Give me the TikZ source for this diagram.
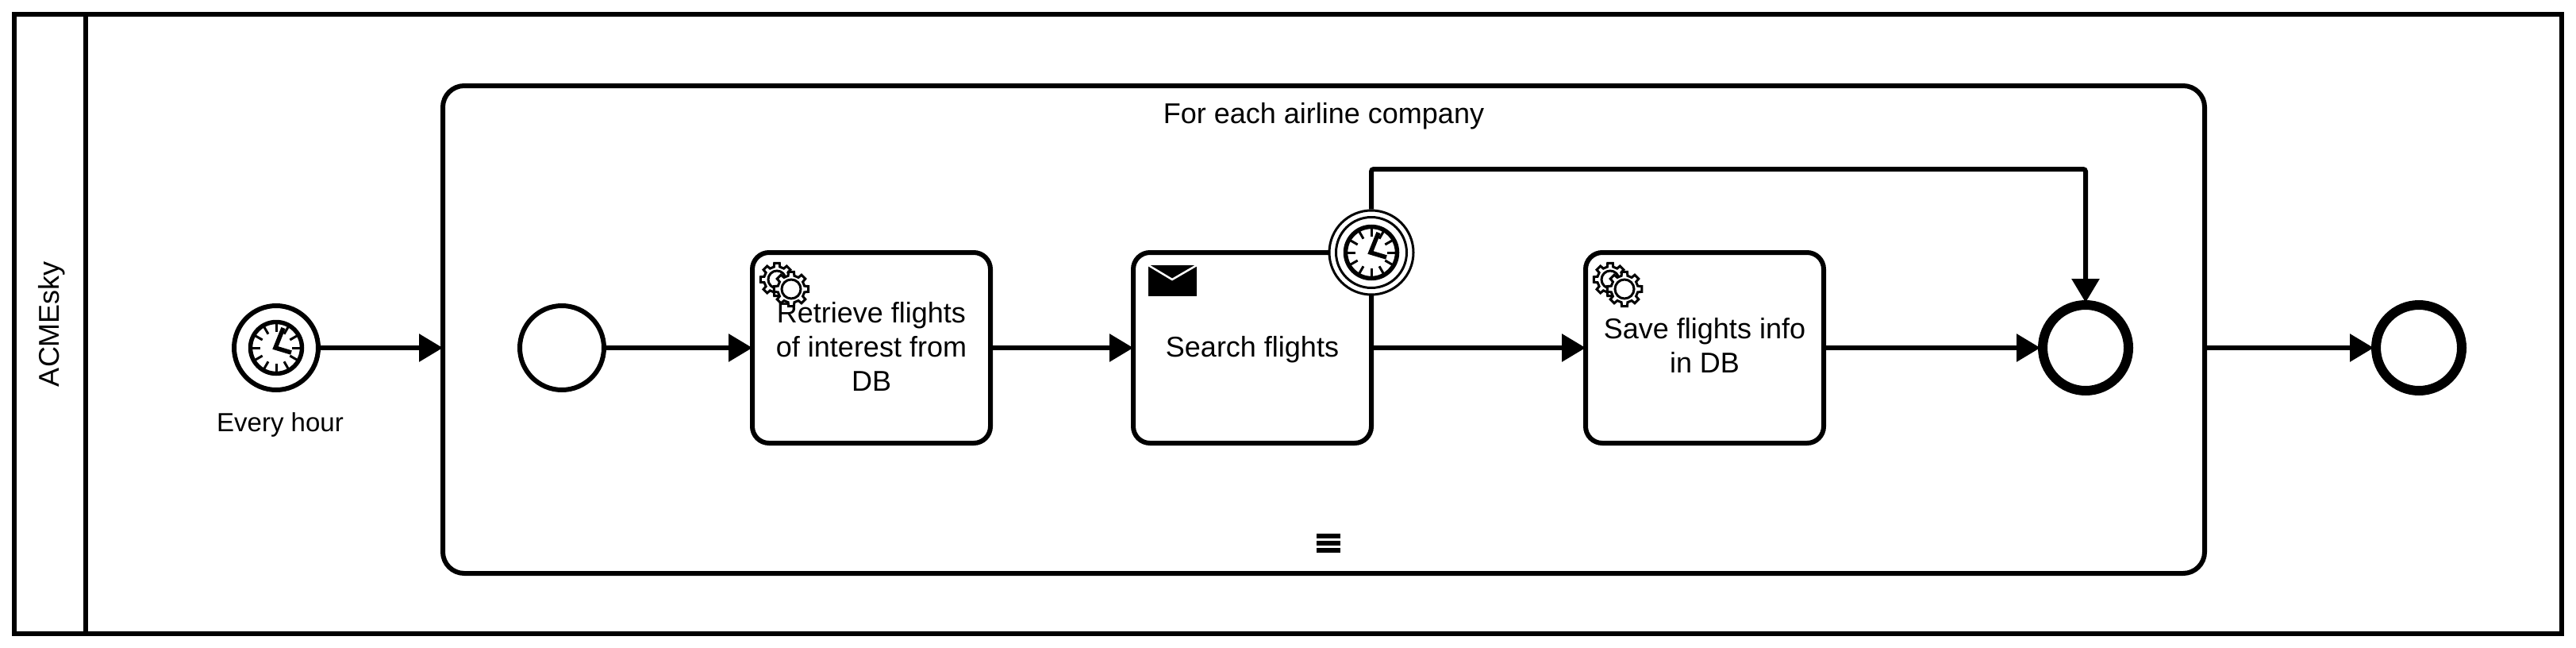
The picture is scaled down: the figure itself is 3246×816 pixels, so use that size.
\documentclass[tikz,border=0pt]{standalone}
\usepackage{fontspec}
\setmainfont{Liberation Sans}
\usetikzlibrary{arrows.meta}
\tikzset{
  x=1pt,y=-1pt,
  ln/.style={line width=6pt,draw=black},
  flow/.style={line width=6pt,draw=black,-{Triangle[length=30pt,width=34pt]},rounded corners=3pt,shorten >=-3pt},
  taskbox/.style={line width=6pt,draw=black,fill=white,rounded corners=21pt,minimum width=300pt,minimum height=240pt,inner sep=0pt},
  tasktext/.style={inner sep=0pt,align=center,font=\fontsize{36}{43}\selectfont},
  evt/.style={circle,draw=black,fill=white,line width=6pt,minimum size=106pt,inner sep=0pt},
  endevt/.style={circle,draw=black,fill=white,line width=12pt,minimum size=108pt,inner sep=0pt},
  lbl/.style={font=\fontsize{36}{43}\selectfont,inner sep=0pt},
}
\newcommand{\clockicon}[1]{%
  \begin{scope}[shift={(#1)}]
    \draw[line width=5.5pt,fill=white] (0,0) circle (32.5pt);
    \foreach \a in {0,30,...,330}
      \draw[line width=3pt] (\a:20pt) -- (\a:31pt);
    \draw[line width=5.5pt] (9,-25) -- (-1,0) -- (19,6);
  \end{scope}}
\newcommand{\gearicon}[3]{%
  \begin{scope}[shift={(#1)}]
    \draw[line width=3pt,fill=white,line join=miter]
      (-13:#2*0.78) \foreach \a in {0,45,...,315} {
        -- (\a-13:#2*0.78) -- (\a-9:#2) -- (\a+9:#2) -- (\a+13:#2*0.78)
      } -- cycle;
    \draw[line width=3pt] (0,0) circle (#3);
  \end{scope}}
\begin{document}
\begin{tikzpicture}
\useasboundingbox (0,0) rectangle (3246,816);
\fill[white] (0,0) rectangle (3246,816);
\coordinate (poolTL) at (18,18);
\coordinate (poolBR) at (3228,798);
\coordinate (sepT) at (108,18);
\coordinate (sepB) at (108,798);
\draw[ln] (poolTL) rectangle (poolBR);
\draw[ln] (sepT) -- (sepB);
\node[lbl,rotate=90] (pool) at (65,408) {ACMEsky};

\node[evt] (start) at (348,438) {};
\clockicon{348,438}
\node[lbl,font=\fontsize{33}{42}\selectfont] (startlbl) at (353,535) {Every hour};

\node[draw=black,line width=6pt,rounded corners=27pt,minimum width=2220pt,minimum height=614pt,inner sep=0pt] (sub) at (1668,415) {};
\node[lbl] (sublbl) at (1668,146) {For each airline company};
\fill (1659,672) rectangle +(30,6);
\fill (1659,681) rectangle +(30,6);
\fill (1659,690) rectangle +(30,6);

\node[evt] (inner) at (708,438) {};
\node[taskbox] (t1) at (1098,438) {};
\node[tasktext] (t1text) at (1098,436) {Retrieve flights\\of interest from\\DB};
\gearicon{979,352}{21pt}{11pt}
\gearicon{997,364}{22pt}{12pt}
\node[taskbox] (t2) at (1578,438) {};
\node[tasktext] (t2text) at (1578,440) {Search flights};
\fill (1447,334) rectangle (1508,373);
\draw[white,line width=2.5pt] (1447,334) -- (1477,352) -- (1508,334);
\node[taskbox] (t3) at (2148,438) {};
\node[tasktext] (t3text) at (2148,435) {Save flights info\\in DB};
\gearicon{2029,352}{21pt}{11pt}
\gearicon{2047,364}{22pt}{12pt}
\node[endevt] (innerend) at (2628,438) {};
\node[endevt] (end) at (3048,438) {};

\node[circle,draw=black,fill=white,line width=3pt,minimum size=106pt,inner sep=0pt] (bnd) at (1728,318) {};
\draw[line width=3pt] (bnd.center) circle (44.5pt);
\clockicon{1728,318}

\draw[flow] (start) -- (sub.west |- start);
\draw[flow] (inner) -- (t1);
\draw[flow] (t1) -- (t2);
\draw[flow] (t2) -- (t3);
\draw[flow] (t3) -- (innerend);
\draw[flow] (sub.east |- end) -- (end);
\draw[flow] (bnd) -- (1728,213) -| (innerend);
\end{tikzpicture}
\end{document}
